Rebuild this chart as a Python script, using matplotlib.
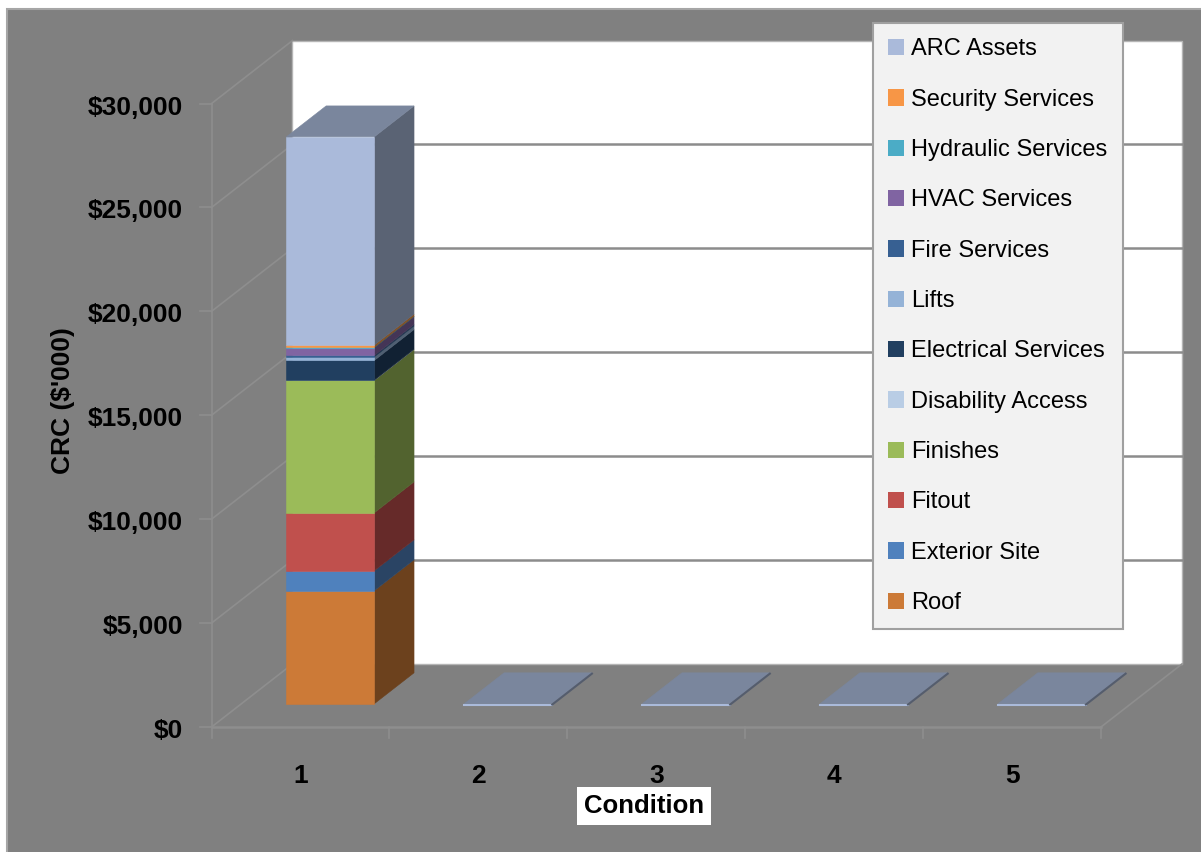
import matplotlib
matplotlib.use('Agg')
import matplotlib.pyplot as plt
from matplotlib.patches import Polygon, Rectangle, Patch
import numpy as np

plt.rcParams['font.family'] = ['Liberation Sans', 'DejaVu Sans']

# Data ($'000), stacked bottom to top
conditions = ['1', '2', '3', '4', '5']
series_names = ['Roof', 'Exterior Site', 'Fitout', 'Finishes', 'Disability Access',
                'Electrical Services', 'Lifts', 'Fire Services', 'HVAC Services',
                'Hydraulic Services', 'Security Services', 'ARC Assets']
roof = [5440, 0, 0, 0, 0]
exterior_site = [960, 0, 0, 0, 0]
fitout = [2790, 0, 0, 0, 0]
finishes = [6370, 0, 0, 0, 0]
disability_access = [20, 0, 0, 0, 0]
electrical = [940, 0, 0, 0, 0]
lifts = [170, 0, 0, 0, 0]
fire = [70, 0, 0, 0, 0]
hvac = [375, 0, 0, 0, 0]
hydraulic = [20, 0, 0, 0, 0]
security = [105, 0, 0, 0, 0]
arc_assets = [10020, 0, 0, 0, 0]
series_values = [roof, exterior_site, fitout, finishes, disability_access, electrical,
                 lifts, fire, hvac, hydraulic, security, arc_assets]
colors = ['#CC7A37', '#4F81BD', '#C0504D', '#9BBB59', '#B9CDE5', '#213F60',
          '#95B3D7', '#376092', '#8064A2', '#4BACC6', '#F79646', '#AABADA']
y_ticks = [0, 5000, 10000, 15000, 20000, 25000, 30000]
y_max = 30000

# oblique 3D look: depth offset in data units
DX = 0.455
DY = 3031
D0, D1 = 0.37, 0.86   # bar front / back depth
HW = 0.247            # bar half width


def proj(c, v, d):
    return (c + d * DX, v + d * DY)


def shade(col, f):
    rgb = np.array(matplotlib.colors.to_rgb(col))
    return tuple(rgb * f)


fig = plt.figure(figsize=(12.01, 8.52), dpi=100)
fig.patch.set_facecolor('white')
fig.patches.append(Rectangle((7 / 1201, -0.01), 1, 1.01 - 9 / 852, transform=fig.transFigure,
                             facecolor='#808080', edgecolor='#A6A6A6', lw=1.5, zorder=0))

ax = fig.add_axes([0, 0, 1, 1])
ax.set_zorder(2)
ax.set_xlim(-0.689, 6.062)
ax.set_ylim(-6015, 34983)
ax.axis('off')
ax.patch.set_alpha(0)

c0, c1 = 0.5, len(conditions) + 0.5
grid_col = '#8E8E8E'

# back wall
ax.add_patch(Polygon([proj(c0, 0, 1), proj(c1, 0, 1), proj(c1, y_max, 1), proj(c0, y_max, 1)],
                     closed=True, facecolor='white', edgecolor='#B5B5B5', lw=1, zorder=1))
for v in y_ticks[1:-1]:
    p, q = proj(c0, v, 1), proj(c1, v, 1)
    ax.plot([p[0], q[0]], [p[1], q[1]], color='#8C8C8C', lw=1.8, zorder=2)
# left wall grid
for v in y_ticks:
    p, q = proj(c0, v, 0), proj(c0, v, 1)
    ax.plot([p[0], q[0]], [p[1], q[1]], color=grid_col, lw=1.2, zorder=2)
    ax.plot([c0 - 0.062, c0], [v, v], color=grid_col, lw=1.2, zorder=2)
    ax.text(c0 - 0.16, v - 190, '${:,.0f}'.format(v), ha='right', va='center',
            fontsize=19, fontweight='bold', color='black')
ax.plot([c0, c0], [0, y_max], color=grid_col, lw=1.2, zorder=2)
# floor edges
ax.plot([c0, c1], [0, 0], color=grid_col, lw=1.8, zorder=2)
p, q = proj(c1, 0, 0), proj(c1, 0, 1)
ax.plot([p[0], q[0]], [p[1], q[1]], color=grid_col, lw=1.2, zorder=2)
for k in range(len(conditions) + 1):
    ax.plot([c0 + k, c0 + k], [0, -530], color=grid_col, lw=1.2, zorder=2)

# bars
for i, name in enumerate(conditions):
    c = i + 1
    bottom = 0
    for vals, col in zip(series_values, colors):
        h = vals[i]
        if h <= 0:
            continue
        top = bottom + h
        ax.add_patch(Polygon([proj(c + HW, bottom, D0), proj(c + HW, bottom, D1),
                              proj(c + HW, top, D1), proj(c + HW, top, D0)],
                             closed=True, facecolor=shade(col, 0.53),
                             edgecolor=shade(col, 0.53), lw=0.4, zorder=3))
        ax.add_patch(Polygon([proj(c - HW, bottom, D0), proj(c + HW, bottom, D0),
                              proj(c + HW, top, D0), proj(c - HW, top, D0)],
                             closed=True, facecolor=col, edgecolor=col, lw=0.4, zorder=3))
        bottom = top
    top_col = shade(colors[-1], 0.72)
    ax.add_patch(Polygon([proj(c - HW, bottom, D0), proj(c + HW, bottom, D0),
                          proj(c + HW, bottom, D1), proj(c - HW, bottom, D1)],
                         closed=True, facecolor=top_col, edgecolor=top_col, lw=0.4, zorder=4))
    if bottom == 0:
        p, q = proj(c - HW, 0, D0), proj(c + HW, 0, D0)
        ax.plot([p[0], q[0]], [p[1] - 40, q[1] - 40], color=colors[-1], lw=1.5, zorder=5)
        p, q = proj(c + HW, 0, D0), proj(c + HW, 0, D1)
        ax.plot([p[0], q[0]], [p[1] - 40, q[1] - 40], color=shade(colors[-1], 0.5), lw=1.5, zorder=5)
    ax.text(c, -2350, name, ha='center', va='center', fontsize=19, fontweight='bold')

ax.text(-0.335, 15700, "CRC ($'000)", rotation=90, ha='center', va='center',
        fontsize=19, fontweight='bold')
ax.text(2.93, -3800, 'Condition', ha='center', va='center', fontsize=18.5, fontweight='bold',
        bbox=dict(boxstyle='square,pad=0.28', facecolor='white', edgecolor='none'))

handles = [Patch(facecolor=col, edgecolor='none', label=n)
           for n, col in zip(series_names, colors)][::-1]
leg = ax.legend(handles=handles, loc='upper left', bbox_to_anchor=(873 / 1201, 1 - 23 / 852),
                bbox_transform=fig.transFigure, fontsize=17, frameon=True, fancybox=False,
                edgecolor='#A0A0A0', facecolor='#F2F2F2', framealpha=1,
                borderpad=0.65, labelspacing=1.20, handlelength=0.68, handleheight=0.68,
                handletextpad=0.3, borderaxespad=0)
leg.get_frame().set_linewidth(1.5)
leg.set_zorder(10)

fig.savefig('out.png', dpi=100, facecolor=fig.get_facecolor())
